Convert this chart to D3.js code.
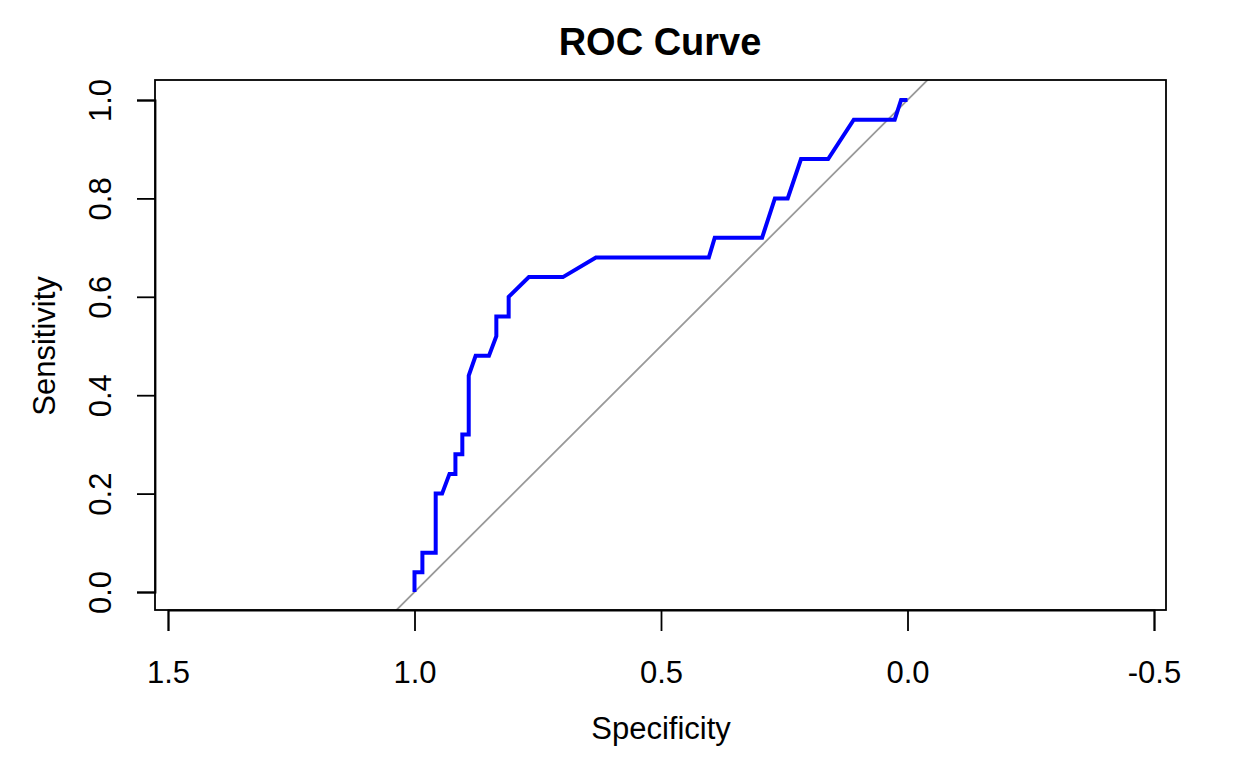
<!DOCTYPE html>
<html>
<head>
<meta charset="utf-8">
<script src="https://cdn.jsdelivr.net/npm/d3@7"></script>
<style>
  body { margin: 0; background: #fff; }
  text { font-family: "Liberation Sans", Arial, sans-serif; fill: #000; }
  .axis path, .axis line { stroke: #000; stroke-width: 1.8; }
</style>
</head>
<body>
<div id="chart"></div>
<script>
// ROC points
const specificity = [1.0, 1.0, 0.984, 0.984, 0.957, 0.957, 0.944, 0.929, 0.917, 0.917, 0.903, 0.903,
  0.89, 0.89, 0.876, 0.849, 0.834, 0.834, 0.809, 0.809, 0.768, 0.699, 0.632, 0.403, 0.391, 0.295,
  0.269, 0.243, 0.216, 0.161, 0.109, 0.026, 0.013, 0.0];
const sensitivity = [0, 0.04, 0.04, 0.08, 0.08, 0.20, 0.20, 0.24, 0.24, 0.28, 0.28, 0.32,
  0.32, 0.44, 0.48, 0.48, 0.52, 0.56, 0.56, 0.60, 0.64, 0.64, 0.68, 0.68, 0.72, 0.72,
  0.80, 0.80, 0.88, 0.88, 0.96, 0.96, 1.0, 1.0];
const xTicks = [1.5, 1.0, 0.5, 0.0, -0.5];
const yTicks = [0.0, 0.2, 0.4, 0.6, 0.8, 1.0];

const svgWidth = 1246;
const svgHeight = 770;
const fontSize = 31;

// plot box
const box = { left: 155, right: 1166, top: 80, bottom: 610 };

const svg = d3.select("#chart")
  .append("svg")
  .attr("width", svgWidth)
  .attr("height", svgHeight);

const x = d3.scaleLinear()
  .domain([1.5, -0.5])
  .range([168, 1154]);

const y = d3.scaleLinear()
  .domain([0, 1])
  .range([592, 100]);

// diagonal reference line, clipped to the box
svg.append("clipPath").attr("id", "clip")
  .append("rect")
  .attr("x", box.left).attr("y", box.top)
  .attr("width", box.right - box.left).attr("height", box.bottom - box.top);

const d0 = x.invert(box.left), d1 = x.invert(box.right);
svg.append("line")
  .attr("clip-path", "url(#clip)")
  .attr("x1", x(d0)).attr("y1", y(1 - d0))
  .attr("x2", x(d1)).attr("y2", y(1 - d1))
  .attr("stroke", "#999")
  .attr("stroke-width", 1.8);

// roc curve
const pts = specificity.map((s, i) => [s, sensitivity[i]]);
const line = d3.line()
  .x(d => x(d[0]))
  .y(d => y(d[1]));

svg.append("path")
  .datum(pts)
  .attr("d", line)
  .attr("fill", "none")
  .attr("stroke", "#0000ff")
  .attr("stroke-width", 4);

// box
svg.append("rect")
  .attr("x", box.left).attr("y", box.top)
  .attr("width", box.right - box.left).attr("height", box.bottom - box.top)
  .attr("fill", "none")
  .attr("stroke", "#000")
  .attr("stroke-width", 1.8);

// axes
const fmt = d => d3.format(".1f")(d).replace("−", "-");

const xAxis = svg.append("g")
  .attr("class", "axis")
  .attr("transform", `translate(0, ${box.bottom})`)
  .call(d3.axisBottom(x).tickValues(xTicks).tickFormat(fmt).tickSizeOuter(0).tickSize(21));
xAxis.selectAll(".tick text")
  .attr("y", 73).attr("dy", null)
  .style("font-size", fontSize + "px");

const yAxis = svg.append("g")
  .attr("class", "axis")
  .attr("transform", `translate(${box.left}, 0)`)
  .call(d3.axisLeft(y).tickValues(yTicks).tickFormat(fmt).tickSizeOuter(0).tickSize(18));
yAxis.selectAll(".tick text")
  .attr("text-anchor", "middle")
  .attr("x", null).attr("dy", null)
  .attr("transform", "translate(-44, 0) rotate(-90)")
  .style("font-size", fontSize + "px");

// title and labels
svg.append("text")
  .attr("x", 660).attr("y", 55)
  .attr("text-anchor", "middle")
  .style("font-size", "38px")
  .style("font-weight", "bold")
  .text("ROC Curve");

svg.append("text")
  .attr("x", 661).attr("y", 739)
  .attr("text-anchor", "middle")
  .style("font-size", fontSize + "px")
  .text("Specificity");

svg.append("text")
  .attr("transform", "translate(55, 346) rotate(-90)")
  .attr("text-anchor", "middle")
  .style("font-size", fontSize + "px")
  .text("Sensitivity");
</script>
</body>
</html>
